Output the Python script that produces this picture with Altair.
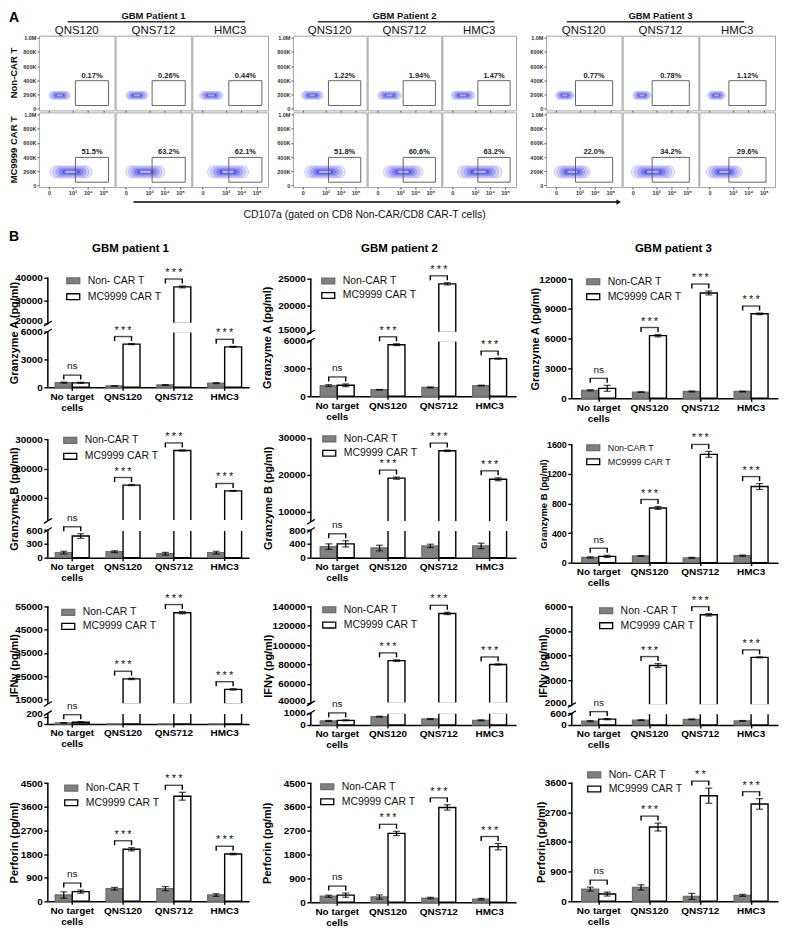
import altair as alt
import pandas as pd

FONT = "Liberation Sans"

# ===================== Panel A data (flow cytometry) =====================
patients = ["GBM Patient 1", "GBM Patient 2", "GBM Patient 3"]
cell_lines = ["QNS120", "QNS712", "HMC3"]
row_labels = ["Non-CAR T", "MC9999 CAR T"]
pct_noncar = [[0.17, 0.26, 0.44], [1.22, 1.94, 1.47], [0.77, 0.78, 1.12]]
pct_car = [[51.5, 63.2, 62.1], [51.8, 60.6, 63.2], [22.0, 34.2, 29.6]]
# CD107a axis in decade units: "0" sits at 1.5, 10^3 at 3, 10^4 at 4, 10^5 at 5
cd107a_ticks = [1.5, 3, 4, 5]
cd107a_labels = ["0", "10³", "10⁴", "10⁵"]
ssc_ticks = [0, 200000, 400000, 600000, 800000, 1000000]
ssc_labels = ["0", "200K", "400K", "600K", "800K", "1.0M"]
noncar_blob_lo = [[1.50, 1.50, 1.32], [1.40, 1.51, 1.40], [1.46, 1.50, 1.38]]
noncar_blob_hi = [[2.86, 2.93, 2.82], [2.85, 3.06, 3.00], [2.66, 2.66, 2.52]]
car_blob_lo = [[1.56, 1.50, 1.83], [1.62, 1.90, 1.85], [1.39, 1.40, 1.30]]
car_blob_hi = [[4.28, 4.03, 4.47], [4.30, 4.50, 4.80], [3.70, 4.20, 3.60]]
noncar_blob_ssc = [133000, 243000]
car_blob_ssc = [105000, 276000]
gate_lo = [3.20, 3.20, 2.75]
gate_hi = [5.34, 5.34, 5.15]
gate_ssc = [45000, 395000]

# ===================== Panel B data (cytokine release) =====================
conditions = ["No target cells", "QNS120", "QNS712", "HMC3"]
groups = ["Non-CAR T", "MC9999 CAR T"]
panel_b_titles = ["GBM patient 1", "GBM patient 2", "GBM patient 3"]

gzma_noncar = [[500, 150, 250, 450], [1150, 700, 950, 1150], [800, 620, 680, 680]]
gzma_noncar_sd = [[60, 20, 40, 50], [100, 30, 50, 50], [60, 40, 40, 40]]
gzma_car = [[480, 4650, 36000, 4350], [1180, 5550, 24000, 4050], [1000, 6300, 10600, 8500]]
gzma_car_sd = [[60, 60, 400, 60], [150, 100, 200, 60], [300, 120, 200, 80]]

gzmb_noncar = [[110, 130, 85, 110], [320, 280, 340, 340], [70, 90, 65, 95]]
gzmb_noncar_sd = [[30, 20, 30, 30], [80, 80, 50, 80], [8, 6, 6, 8]]
gzmb_car = [[470, 14300, 26200, 12300], [400, 19100, 26500, 18800], [85, 740, 1465, 1030]]
gzmb_car_sd = [[50, 200, 200, 150], [90, 300, 200, 400], [15, 20, 40, 40]]

ifng_noncar = [[30, 0, 0, 0], [330, 680, 490, 380], [200, 250, 290, 210]]
ifng_noncar_sd = [[10, 0, 0, 0], [40, 40, 40, 40], [30, 20, 20, 20]]
ifng_car = [[50, 23800, 52200, 19300], [380, 84000, 132500, 80000], [300, 3600, 5650, 3930]]
ifng_car_sd = [[15, 300, 500, 300], [40, 800, 1200, 600], [30, 80, 50, 20]]

perf_noncar = [[240, 480, 480, 240], [230, 200, 160, 120], [370, 420, 150, 180]]
perf_noncar_sd = [[120, 50, 80, 50], [40, 80, 30, 30], [60, 80, 90, 30]]
perf_car = [[370, 1980, 4000, 1800], [270, 2600, 3580, 2100], [220, 2250, 3200, 2950]]
perf_car_sd = [[60, 60, 150, 30], [80, 80, 100, 120], [60, 120, 230, 160]]

sig_gzma = [["ns", "***", "***", "***"]] * 3
sig_gzmb = [["ns", "***", "***", "***"]] * 3
sig_ifng = [["ns", "***", "***", "***"]] * 3
sig_perf = [["ns", "***", "***", "***"], ["ns", "***", "***", "***"], ["ns", "***", "**", "***"]]

yticks = [
    [[0, 3000, 6000, 20000, 30000, 40000], [0, 3000, 6000, 15000, 20000, 25000], [0, 3000, 6000, 9000, 12000]],
    [[0, 300, 600, 10000, 20000, 30000], [0, 400, 800, 10000, 20000, 30000], [0, 400, 800, 1200, 1600]],
    [[0, 200, 15000, 25000, 35000, 45000, 55000], [0, 1000, 40000, 60000, 80000, 100000, 120000, 140000],
     [0, 600, 2000, 3000, 4000, 5000, 6000]],
    [[0, 900, 1800, 2700, 3600, 4500], [0, 900, 1800, 2700, 3600, 4500], [0, 900, 1800, 2700, 3600]],
]
legend_alias = [["Non- CAR T", "Non-CAR T", "Non-CAR T"], ["Non-CAR T", "Non-CAR T", "Non-CAR T"],
                ["Non-CAR T", "Non-CAR T", "Non -CAR T"], ["Non-CAR T", "Non-CAR T", "Non- CAR T"]]

MEAS = [
    dict(title="Granzyme A (pg/ml)", nc=gzma_noncar, ncsd=gzma_noncar_sd, car=gzma_car, carsd=gzma_car_sd, sig=sig_gzma),
    dict(title="Granzyme B (pg/ml)", nc=gzmb_noncar, ncsd=gzmb_noncar_sd, car=gzmb_car, carsd=gzmb_car_sd, sig=sig_gzmb),
    dict(title="IFNγ (pg/ml)", nc=ifng_noncar, ncsd=ifng_noncar_sd, car=ifng_car, carsd=ifng_car_sd, sig=sig_ifng),
    dict(title="Perforin (pg/ml)", nc=perf_noncar, ncsd=perf_noncar_sd, car=perf_car, carsd=perf_car_sd, sig=sig_perf),
]

# ===================== layout (positions / styles only) =====================
A_W = [76, 74, 76]
A_H = 75
X_DOM = [0.84, 5.73]
Y_DOM = [-24000, 1030000]
RING_FILL = ["#e9e9fc", "#cdcdf8", "#a9a9f4", "#8080ee", "#5a5ae8", "#b9b9f6"]
UNDERLINE = [(29, 207), (25, 202), (21, 199)]
A_END_Y = 112          # invisible rule (relative to CAR row) that fixes where panel B starts

B_X0 = [47, 311, 573]
B_W = [202, 206, 207]
B_BOTTOM = [[386, 395, 397], [557, 557, 562], [724, 725, 725], [902, 903, 902]]
B_ROWTOP = [223, 397, 562, 725]
# lower segment: (value, page y of value, top value of segment)
B_LOWER = [[(6000, 330, 6000), (6000, 339, 6000), (12000, 277.3, 12000)],
           [(600, 529.3, 600), (800, 529.3, 800), (1600, 443.3, 1600)],
           [(200, 716.7, 300), (1000, 712.7, 1000), (600, 713.3, 600)],
           [(4500, 783.3, 4500), (4500, 783.3, 4500), (3600, 782.7, 3600)]]
# upper segment: (va, page ya, vb, page yb, bottom value of segment)
B_UPPER = [[(20000, 322, 40000, 276, 20000), (15000, 331, 25000, 276.7, 15000), None],
           [(10000, 496.7, 30000, 438.3, 2000), (10000, 511, 30000, 436.7, 7300), None],
           [(15000, 699.3, 55000, 605.7, 13000), (40000, 703.3, 140000, 605.7, 40000), (2000, 705, 6000, 605.7, 2000)],
           [None, None, None]]
B_LEG = [[(65, 278, 15), (321, 278.3, 13.5), (587, 279, 14)],
         [(62, 438.3, 15), (322, 436.7, 13.5), (587, 445.7, 11)],
         [(60, 611, 12.5), (322, 608.3, 14.4), (600, 609.3, 14)],
         [(63, 787.3, 13.7), (320, 786, 14), (588, 774, 13.3)]]
B_YT_X = [[14, 268, 537], [14, 269, 545], [14, 269, 545], [14, 268, 543]]
B_TITLE_X = [130, 400, 675]
B_TITLE_Y = 247


def label_expr(vals, labs, tol):
    parts = [f"abs(datum.value - ({v})) < {tol} ? '{l}'" for v, l in zip(vals, labs)]
    return " : ".join(parts) + " : ''"


def one(**kw):
    return pd.DataFrame([kw])


def flow_panel(p, c, row):
    W, H = A_W[p], A_H
    if row == 0:
        lo, hi = noncar_blob_lo[p][c], noncar_blob_hi[p][c]
        ylo, yhi = noncar_blob_ssc
        pct = f"{pct_noncar[p][c]:.2f}%"
    else:
        lo, hi = car_blob_lo[p][c], car_blob_hi[p][c]
        ylo, yhi = car_blob_ssc
        pct = f"{pct_car[p][c]:.1f}%"
    xs = alt.Scale(domain=X_DOM, nice=False, zero=False)
    ys = alt.Scale(domain=Y_DOM, nice=False, zero=False)
    x_axis = alt.Axis(values=cd107a_ticks, labelExpr=label_expr(cd107a_ticks, cd107a_labels, 0.05),
                      labels=(row == 1), tickSize=2, tickWidth=0.8, tickColor="#333", domain=False, grid=False,
                      labelFontSize=5.5, labelFontWeight="bold", labelPadding=1, labelColor="#333",
                      title=None, labelFlush=False)
    y_axis = None
    if c == 0:
        y_axis = alt.Axis(values=ssc_ticks, labelExpr=label_expr(ssc_ticks, ssc_labels, 1), tickSize=2,
                          tickWidth=0.8, tickColor="#333", domain=False, grid=False, labelFontSize=5.5,
                          labelFontWeight="bold", labelPadding=1, labelColor="#333", title=None,
                          labelFlush=False)
    xm, ym = (lo + hi) / 2, (ylo + yhi) / 2
    outer_px = (yhi - ylo) / (Y_DOM[1] - Y_DOM[0]) * H
    layers = []
    nr = len(RING_FILL)
    for k in range(nr):
        sx = 1 - 0.72 * k / (nr - 1)
        sy = 1 - 0.8 * k / (nr - 1)
        d = one(x0=xm - (xm - lo) * sx, x1=xm + (hi - xm) * sx, y0=ym - (ym - ylo) * sy, y1=ym + (yhi - ym) * sy)
        layers.append(alt.Chart(d).mark_rect(fill=RING_FILL[k], stroke="#7f7fef", strokeWidth=0.35,
                                             cornerRadius=max(0.5, outer_px * sy / 2 - 0.2)).encode(
            x=alt.X("x0:Q", scale=xs, axis=x_axis), x2="x1:Q",
            y=alt.Y("y0:Q", scale=ys, axis=y_axis), y2="y1:Q"))
    layers.append(alt.Chart(one(x0=gate_lo[p], x1=gate_hi[p], y0=gate_ssc[0], y1=gate_ssc[1])).mark_rect(
        fillOpacity=0, stroke="#555555", strokeWidth=0.9).encode(
        x=alt.X("x0:Q", scale=xs, axis=x_axis), x2="x1:Q", y=alt.Y("y0:Q", scale=ys, axis=y_axis), y2="y1:Q"))
    layers.append(alt.Chart(one(x0=(gate_lo[p] + gate_hi[p]) / 2, y0=gate_ssc[1], t=pct)).mark_text(
        fontSize=7.5, fontWeight="bold", baseline="bottom", dy=-1, color="#222").encode(
        x=alt.X("x0:Q", scale=xs, axis=x_axis), y=alt.Y("y0:Q", scale=ys, axis=y_axis), text="t:N"))
    if row == 0:
        layers.append(alt.Chart(one(t=cell_lines[c])).mark_text(fontSize=11.5, baseline="alphabetic",
                                                               align="center", color="#111").encode(
            x=alt.value(W / 2), y=alt.value(-2), text="t:N"))
    if row == 0 and c == 0:
        layers.append(alt.Chart(one(t=patients[p])).mark_text(fontSize=9.5, fontWeight="bold", baseline="top",
                                                             align="center", color="#111").encode(
            x=alt.value((3 * W + 2) / 2), y=alt.value(-25), text="t:N"))
        u0, u1 = UNDERLINE[p]
        layers.append(alt.Chart(one(a=0)).mark_rule(color="#333", strokeWidth=1.3).encode(
            x=alt.value(u0), x2=alt.value(u1), y=alt.value(-14)))
    if p == 0 and c == 0:
        layers.append(alt.Chart(one(t=row_labels[row])).mark_text(fontSize=9.5, fontWeight="bold", angle=270,
                                                                 align="center", baseline="middle",
                                                                 color="#111").encode(
            x=alt.value(-25), y=alt.value(H / 2), text="t:N"))
        if row == 0:
            layers.append(alt.Chart(one(t="A")).mark_text(fontSize=14, fontWeight="bold", align="left",
                                                         baseline="top", color="black").encode(
                x=alt.value(-30), y=alt.value(-25), text="t:N"))
        else:
            layers.append(alt.Chart(one(a=0)).mark_rule(color="black", strokeWidth=1.5).encode(
                x=alt.value(95), x2=alt.value(580), y=alt.value(90)))
            layers.append(alt.Chart(one(a=0)).mark_point(shape="triangle-right", filled=True, size=28,
                                                        color="black", opacity=1).encode(
                x=alt.value(582), y=alt.value(90)))
            layers.append(alt.Chart(one(t="CD107a (gated on CD8 Non-CAR/CD8 CAR-T cells)")).mark_text(
                fontSize=10.5, align="center", baseline="middle", color="#111").encode(
                x=alt.value(327), y=alt.value(103), text="t:N"))
            layers.append(alt.Chart(one(a=0)).mark_rule(opacity=0, strokeWidth=1).encode(
                x=alt.value(0), x2=alt.value(10), y=alt.value(A_END_Y)))
    props = dict(width=W, height=H, view=alt.ViewBackground(stroke="#a3a3a3", strokeWidth=1))
    return alt.layer(*layers).properties(**props)


def bar_panel(r, c):
    m = MEAS[r]
    x0, W = B_X0[c], B_W[c]
    bottom = B_BOTTOM[r][c]
    top = B_ROWTOP[r]
    H = bottom - top
    vL, yL, vLtop = B_LOWER[r][c]
    up = B_UPPER[r][c]

    def dsp(v):
        if up is None or v <= vLtop:
            return (bottom - yL) * v / vL
        va, ya, vb, yb, _ = up
        return (bottom - ya) + (v - va) * (ya - yb) / (vb - va)

    bars, errs, caps, tops = [], [], [], {}
    for i, cond in enumerate(conditions):
        for g, vals, sds in ((groups[0], m["nc"][c], m["ncsd"][c]), (groups[1], m["car"][c], m["carsd"][c])):
            v, e = vals[i], sds[i]
            if up is not None and v > vLtop:
                bars.append(dict(cond=cond, grp=g, y0=0.0, y1=dsp(vLtop)))
                bars.append(dict(cond=cond, grp=g, y0=dsp(up[4]), y1=dsp(v)))
                lo = dsp(max(v - e, up[4]))
            else:
                bars.append(dict(cond=cond, grp=g, y0=0.0, y1=dsp(v)))
                lo = dsp(max(v - e, 0))
            hi = dsp(v + e)
            if e > 0:
                errs.append(dict(cond=cond, grp=g, y0=lo, y1=hi))
                caps += [dict(cond=cond, grp=g, y0=lo), dict(cond=cond, grp=g, y0=hi)]
            tops[cond] = max(tops.get(cond, 0), hi, dsp(v))

    PI = 0.333
    po = max(0.05, (W / 51 - 4 + PI) / 2)
    step = W / (4 - PI + 2 * po)
    half = step * (1 - PI) / 2

    brk, legs, sigs = [], [], []
    for i, cond in enumerate(conditions):
        b = tops[cond] + 7
        brk.append(dict(cond=cond, y0=b))
        for g in groups:
            legs.append(dict(cond=cond, grp=g, y0=b - 4.5, y1=b))
        lab = m["sig"][c][i]
        star = lab != "ns"
        sigs.append(dict(cond=cond, y0=b + (3 if star else 5.7), t=("\u2009".join(lab) if star else lab),
                         fs=(11 if star else 10)))

    ticks = yticks[r][c]
    tick_d = [round(dsp(t), 3) for t in ticks]
    # labels sitting too close above the previous tick are lifted onto their tick
    crowded = [tick_d[k] for k in range(1, len(tick_d)) if tick_d[k] - tick_d[k - 1] < 10.5]
    base_cond = alt.Undefined
    if crowded:
        test = " || ".join(f"abs(datum.value - ({v})) < 0.3" for v in crowded)
        base_cond = {"condition": {"test": test, "value": "alphabetic"}, "value": "middle"}
    ytop_page = bottom - tick_d[-1]
    small = (r == 1 and c == 2)
    yscale = alt.Scale(domain=[0, H], nice=False, zero=False)
    xscale = alt.Scale(domain=conditions, paddingInner=PI, paddingOuter=po)
    oscale = alt.Scale(domain=groups)
    yaxis = alt.Axis(values=tick_d, labelExpr=label_expr(tick_d, [str(t) for t in ticks], 0.3), domain=False,
                     grid=False, tickSize=4, tickWidth=1.4, tickColor="black", labelColor="black",
                     labelFontSize=9 if small else 10, labelFontWeight="bold", labelPadding=1.5,
                     labelBaseline=base_cond,
                     labelOverlap=False, labelFlush=False, title=m["title"], titleX=B_YT_X[r][c] - x0,
                     titleY=(bottom + ytop_page) / 2 - top, titleFontSize=9.5 if small else 11,
                     titleFontWeight="bold", titleBaseline="middle", titleAlign="center", titleColor="black")
    xaxis = alt.Axis(title=None, labelAngle=0,
                     labelExpr="datum.label == 'No target cells' ? ['No target', 'cells'] : datum.label",
                     labelFontSize=10, labelFontWeight="bold", labelColor="black", tickSize=3, tickWidth=1.4,
                     tickColor="black", domainColor="black", domainWidth=1.5, labelPadding=1, labelLineHeight=11,
                     grid=False)
    lx, ly, pitch = B_LEG[r][c]
    alias = legend_alias[r][c]
    leg = alt.Legend(orient="none", legendX=lx - x0, legendY=ly - top - 6.5, title=None,
                     symbolType="M-1,-0.45L1,-0.45L1,0.45L-1,0.45Z", symbolSize=170, symbolStrokeWidth=1.3,
                     labelFontSize=9 if small else 10.5, labelColor="#111", labelOffset=7,
                     rowPadding=pitch - 13, padding=0, labelLimit=200,
                     labelExpr=f"datum.label == 'Non-CAR T' ? '{alias}' : datum.label")

    X = lambda: alt.X("cond:N", scale=xscale, axis=xaxis, sort=conditions)
    XO = lambda: alt.XOffset("grp:N", scale=oscale, sort=groups)
    Y = lambda: alt.Y("y0:Q", scale=yscale, axis=yaxis)

    layers = [alt.Chart(pd.DataFrame(bars)).mark_bar(strokeWidth=1.4).encode(
        x=X(), xOffset=XO(), y=Y(), y2="y1:Q",
        fill=alt.Fill("grp:N", scale=alt.Scale(domain=groups, range=["#808080", "#ffffff"]), legend=leg),
        stroke=alt.Stroke("grp:N", scale=alt.Scale(domain=groups, range=["#6e6e6e", "#000000"]), legend=leg))]
    if up is not None:
        layers.append(alt.Chart(one(y0=dsp(vLtop) - 0.9, y1=dsp(up[4]) + 0.9)).mark_rect(fill="white").encode(
            x=alt.value(1.5), x2=alt.value(W), y=Y(), y2="y1:Q"))
    if errs:
        layers.append(alt.Chart(pd.DataFrame(errs)).mark_rule(strokeWidth=1.2, color="black").encode(
            x=X(), xOffset=XO(), y=Y(), y2="y1:Q"))
        layers.append(alt.Chart(pd.DataFrame(caps)).mark_tick(size=7, thickness=1.2, color="black").encode(
            x=X(), xOffset=XO(), y=Y()))
    segs = [dict(y0=0.0, y1=dsp(vLtop))]
    if up is not None:
        segs.append(dict(y0=dsp(up[4]), y1=dsp(up[2])))
        marks = [dict(y0=dsp(vLtop) - 2.5, y1=dsp(vLtop) + 2.5), dict(y0=dsp(up[4]) - 2.5, y1=dsp(up[4]) + 2.5)]
        layers.append(alt.Chart(pd.DataFrame(marks)).mark_rule(strokeWidth=1.3, color="black").encode(
            x=alt.value(-4), x2=alt.value(4), y=Y(), y2="y1:Q"))
    layers.append(alt.Chart(pd.DataFrame(segs)).mark_rule(strokeWidth=1.5, color="black").encode(
        x=alt.value(0), y=Y(), y2="y1:Q"))
    layers.append(alt.Chart(pd.DataFrame(legs)).mark_rule(strokeWidth=1.4, color="black").encode(
        x=X(), xOffset=XO(), y=Y(), y2="y1:Q"))
    layers.append(alt.Chart(pd.DataFrame(brk)).mark_tick(size=half + 1.4, thickness=1.4, color="black").encode(
        x=X(), y=Y()))
    layers.append(alt.Chart(pd.DataFrame(sigs)).mark_text(baseline="alphabetic", color="#111").encode(
        x=X(), y=Y(), text="t:N", size=alt.Size("fs:Q", scale=None)))
    if r == 0:
        layers.append(alt.Chart(one(t=panel_b_titles[c])).mark_text(fontSize=11.5, fontWeight="bold",
                                                                   align="center", baseline="middle",
                                                                   color="black").encode(
            x=alt.value(B_TITLE_X[c] - x0), y=alt.value(B_TITLE_Y - top), text="t:N"))
        if c == 0:
            layers.append(alt.Chart(one(t="B")).mark_text(fontSize=14, fontWeight="bold", align="left",
                                                         baseline="top", color="black").encode(
                x=alt.value(8 - x0), y=alt.value(228 - top), text="t:N"))
    return alt.layer(*layers).properties(width=W, height=H)


def spacer(w, h):
    return alt.Chart(pd.DataFrame({"v": [0.5]})).mark_point(opacity=0, size=1).encode(
        x=alt.X("v:Q", scale=alt.Scale(domain=[0, 1]), axis=None),
        y=alt.Y("v:Q", scale=alt.Scale(domain=[0, 1]), axis=None)).properties(width=w, height=h)


def indep(ch):
    return ch.resolve_scale(x="independent", y="independent", fill="independent",
                            stroke="independent").resolve_legend(fill="independent", stroke="independent")


# ---- panel A grid (17 columns: 9 plots + spacers) ----
A_COLS = 17
leaves_a = []
for row in range(2):
    items = []
    for p in range(3):
        for c in range(3):
            items.append(flow_panel(p, c, row))
            if c < 2:
                items.append(spacer(1, 1))
        if p == 0:
            items.append(spacer(25, 1))
        elif p == 1:
            items.append(spacer(30, 1))
    leaves_a += items
    if row == 0:
        leaves_a += [spacer(1, 2) for _ in range(A_COLS)]
grid_a = indep(alt.concat(*leaves_a, columns=A_COLS, spacing=0, bounds="flush", align="each"))

# ---- panel B grid (6 columns: 3 charts + spacers) ----
leaves_b = []
for r in range(4):
    leaves_b += [spacer(9, 1), bar_panel(r, 0), spacer(62, 1), bar_panel(r, 1), spacer(56, 1), bar_panel(r, 2)]
grid_b = indep(alt.concat(*leaves_b, columns=6, spacing=0, bounds="flush", align="each"))

chart = indep(alt.vconcat(grid_a, grid_b, spacing=0, bounds="full")).properties(
    padding={"left": 0, "top": 0, "right": 2, "bottom": 0}
).configure(font=FONT, background="white").configure_view(stroke=None)

chart.save("out.html", embed_options={"renderer": "svg", "actions": False})
